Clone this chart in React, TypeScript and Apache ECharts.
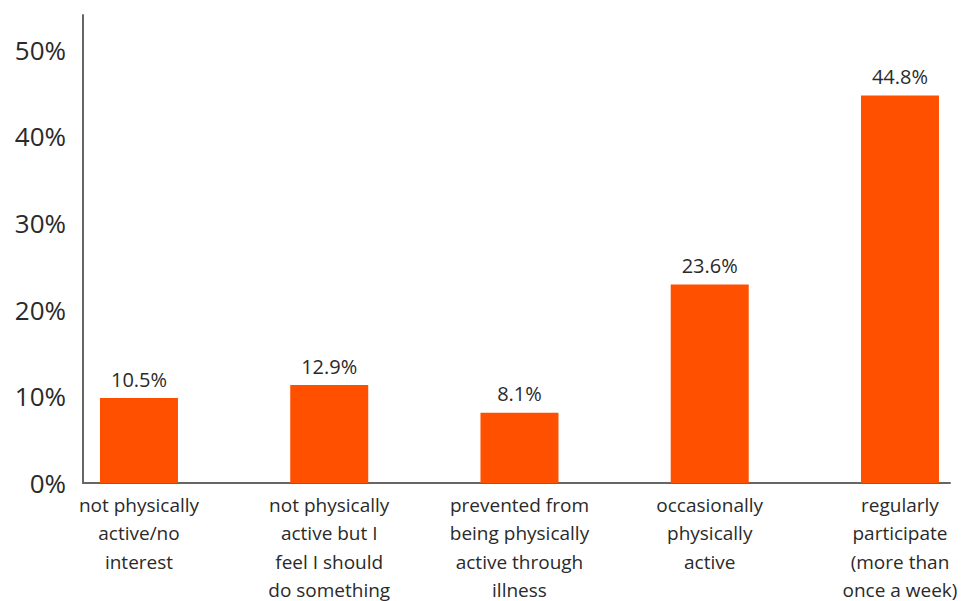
import React, { useEffect, useRef } from "react";
import * as echarts from "echarts";

const categories = [
  "not physically\nactive/no\ninterest",
  "not physically\nactive but I\nfeel I should\ndo something",
  "prevented from\nbeing physically\nactive through\nillness",
  "occasionally\nphysically\nactive",
  "regularly\nparticipate\n(more than\nonce a week)",
];
// bar heights as drawn in the reference (percent)
const values = [9.8, 11.3, 8.1, 22.9, 44.7];
// value labels as printed in the reference
const valueLabels = ["10.5%", "12.9%", "8.1%", "23.6%", "44.8%"];
const yTicks = [0, 10, 20, 30, 40, 50];

const FONT = "'Open Sans', 'Noto Sans', sans-serif";

export default function App() {
  const ref = useRef<HTMLDivElement>(null);
  useEffect(() => {
    if (!ref.current) return;
    const chart = echarts.init(ref.current, undefined, { renderer: "svg" });
    chart.setOption({
      animation: false,
      backgroundColor: "#ffffff",
      grid: {
        left: 83,
        right: 15,
        top: 15,
        bottom: 118,
        containLabel: false,
        outerBoundsMode: "none",
      },
      xAxis: {
        type: "value",
        min: -0.2943,
        max: 4.263,
        splitLine: { show: false },
        axisLine: { show: true, onZero: false, lineStyle: { color: "#666666", width: 2 } },
        axisTick: { show: false },
        axisLabel: {
          customValues: [0, 1, 2, 3, 4],
          formatter: (v: number) => categories[Math.round(v)] ?? "",
          color: "#2a2a2a",
          fontFamily: FONT,
          fontSize: 19,
          lineHeight: 28.3,
          margin: 8,
          align: "center",
        },
      },
      yAxis: {
        type: "value",
        min: 0,
        max: 54,
        splitLine: { show: false },
        axisLine: { show: true, onZero: false, lineStyle: { color: "#666666", width: 2 } },
        axisTick: { show: false },
        axisLabel: {
          customValues: yTicks,
          formatter: (v: number) => `${v}%`,
          color: "#2a2a2a",
          fontFamily: FONT,
          fontSize: 26,
          margin: 17,
        },
      },
      series: [
        {
          type: "bar",
          data: values.map((v, i) => [i, v]),
          barWidth: 78,
          itemStyle: { color: "#FF5000" },
          label: {
            show: true,
            position: "top",
            distance: 9,
            formatter: (p: any) => valueLabels[p.dataIndex],
            color: "#2a2a2a",
            fontFamily: FONT,
            fontSize: 20,
          },
        },
      ],
    });
    return () => chart.dispose();
  }, []);
  return <div ref={ref} style={{ width: 965, height: 601, position: "absolute", left: 0, top: 0 }} />;
}
